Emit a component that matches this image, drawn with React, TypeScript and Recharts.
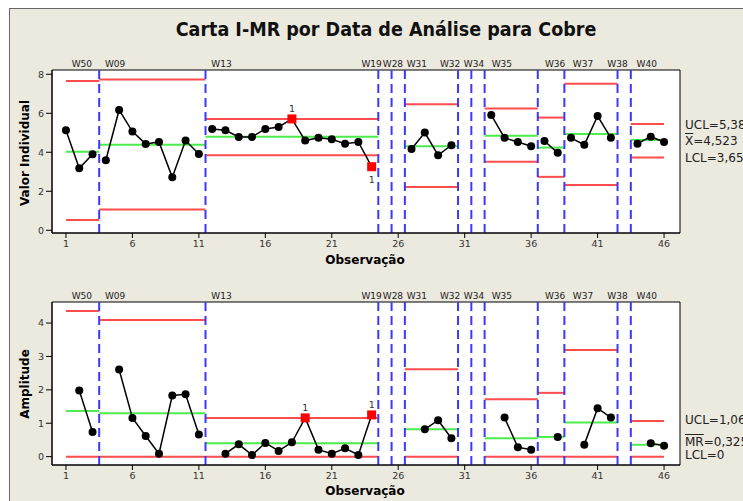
import React from "react";
import {
  ComposedChart,
  Line,
  XAxis,
  YAxis,
  ReferenceLine,
  ReferenceArea,
  CartesianGrid,
} from "recharts";

// observations 1..46, null = not plotted
const individualValues = [
  5.13, 3.18, 3.9, 3.59, 6.17, 5.06, 4.43, 4.53, 2.72, 4.6, 3.91, 5.2, 5.13, 4.79, 4.79, 5.2,
  5.3, 5.71, 4.6, 4.74, 4.67, 4.44, 4.53, 3.26, null, null, 4.17, 5.01, 3.85, 4.36, null, null,
  5.91, 4.74, 4.53, 4.31, 4.58, 3.97, 4.74, 4.38, 5.86, 4.74, null, 4.44, 4.8, 4.53,
];
const movingRanges = [
  null, 1.98, 0.74, null, 2.61, 1.16, 0.62, 0.09, 1.83, 1.87, 0.66, null, 0.09, 0.37, 0.05, 0.41,
  0.17, 0.43, 1.16, 0.21, 0.09, 0.25, 0.05, 1.25, null, null, null, 0.82, 1.09, 0.55, null, null,
  null, 1.17, 0.28, 0.21, null, 0.59, null, 0.36, 1.45, 1.17, null, null, 0.4, 0.33,
];

const stageNames = ["W50", "W09", "W13", "W19", "W28", "W31", "W32", "W34", "W35", "W36", "W37", "W38", "W40"];
const stageFirst = [1, 4, 12, 25, 26, 27, 31, 32, 33, 37, 39, 43, 44];
const stageLast = [3, 11, 24, 25, 26, 30, 31, 32, 36, 38, 42, 43, 46];
const stageLabelX = [2.2, 4.7, 12.7, 24.0, 25.6, 27.4, 29.9, 31.7, 33.8, 37.8, 39.9, 42.5, 44.7];

const iUcl = [7.66, 7.73, 5.71, null, null, 6.46, null, null, 6.24, 5.78, 7.52, null, 5.45];
const iCl = [4.03, 4.38, 4.8, null, null, 4.31, null, null, 4.85, 4.24, 4.94, null, 4.63];
const iLcl = [0.53, 1.06, 3.85, null, null, 2.22, null, null, 3.52, 2.74, 2.32, null, 3.73];
const mrUcl = [4.36, 4.09, 1.16, null, null, 2.62, null, null, 1.72, 1.91, 3.19, null, 1.07];
const mrCl = [1.37, 1.3, 0.4, null, null, 0.82, null, null, 0.55, 0.59, 1.02, null, 0.36];
const mrLcl = [0, 0, 0, null, null, 0, null, null, 0, 0, 0, null, 0];

const iFlagged = [18, 24];
const iFlaggedBelow = [24];
const mrFlagged = [19, 24];

const xTicks = [1, 6, 11, 16, 21, 26, 31, 36, 41, 46];
const iTicks = [0, 2, 4, 6, 8];
const mrTicks = [0, 1, 2, 3, 4];

const RED = "#ff4d4d";
const GREEN = "#4cec4c";
const BLUE = "#3a3aff";
const FONT = "'DejaVu Sans', Verdana, sans-serif";
const X_DOMAIN: [number, number] = [-0.05, 47.2];
const boundaries = stageFirst.slice(1).map((f) => f - 0.5);

function segment(i: number, v: number) {
  const start = i === 0 ? stageFirst[i] : stageFirst[i] - 0.5;
  const end = i === stageNames.length - 1 ? stageLast[i] : stageLast[i] + 0.5;
  return [
    { x: start, y: v },
    { x: end, y: v },
  ];
}

function stagePoints(values: (number | null)[], i: number) {
  const pts: { x: number; y: number }[] = [];
  for (let o = stageFirst[i]; o <= stageLast[i]; o++) {
    const v = values[o - 1];
    if (v != null) pts.push({ x: o, y: v });
  }
  return pts;
}

function makeDot(flags: number[], below: number[]) {
  return (props: any) => {
    const { cx, cy, payload } = props;
    const k = `d-${payload.x}`;
    if (cx == null || cy == null) return <g key={k} />;
    if (flags.includes(payload.x)) {
      const under = below.includes(payload.x);
      return (
        <g key={k}>
          <rect x={cx - 4.5} y={cy - 4.5} width={9} height={9} fill="#ff0000" />
          <text x={cx} y={under ? cy + 16 : cy - 7} textAnchor="middle" fontSize={9.5} fill="#333" fontFamily={FONT}>
            1
          </text>
        </g>
      );
    }
    return <circle key={k} cx={cx} cy={cy} r={4} fill="#000" />;
  };
}

interface ChartProps {
  height: number;
  margin: { top: number; right: number; bottom: number; left: number };
  values: (number | null)[];
  ucl: (number | null)[];
  cl: (number | null)[];
  lcl: (number | null)[];
  yDomain: [number, number];
  yTicks: number[];
  flags: number[];
  flagsBelow: number[];
}

function ControlChart({ height, margin, values, ucl, cl, lcl, yDomain, yTicks, flags, flagsBelow }: ChartProps) {
  const tick = { fill: "#333", fontSize: 9.5, fontFamily: FONT };
  const dot = makeDot(flags, flagsBelow);
  const limitLine = (arr: (number | null)[], color: string, prefix: string) =>
    arr.map((v, i) =>
      v == null ? null : (
        <Line
          key={prefix + i}
          data={segment(i, v)}
          dataKey="y"
          stroke={color}
          strokeWidth={2}
          dot={false}
          isAnimationActive={false}
        />
      )
    );
  return (
    <ComposedChart width={743} height={height} margin={margin}>
      <CartesianGrid horizontal={false} vertical={false} fill="#fff" />
      <XAxis
        type="number"
        dataKey="x"
        domain={X_DOMAIN}
        ticks={xTicks}
        height={30}
        tickSize={5}
        tick={tick}
        stroke="#000"
        allowDataOverflow
      />
      <YAxis
        type="number"
        domain={yDomain}
        ticks={yTicks}
        width={40}
        tickSize={6}
        tick={tick}
        stroke="#000"
        allowDataOverflow
      />
      {limitLine(lcl, RED, "l")}
      {limitLine(ucl, RED, "u")}
      {limitLine(cl, GREEN, "c")}
      {boundaries.map((b) => (
        <ReferenceLine key={"b" + b} x={b} stroke={BLUE} strokeWidth={2} strokeDasharray="9 5" />
      ))}
      {stageNames.map((name, i) => (
        <ReferenceLine
          key={"s" + name}
          x={stageLabelX[i]}
          stroke="none"
          label={{ value: name, position: "top", offset: 3, fill: "#222", fontSize: 9, fontFamily: FONT }}
        />
      ))}
      {stageNames.map((name, i) => {
        const pts = stagePoints(values, i);
        if (pts.length === 0) return null;
        return (
          <Line
            key={"p" + name}
            data={pts}
            dataKey="y"
            stroke="#000"
            strokeWidth={1.5}
            dot={dot}
            isAnimationActive={false}
          />
        );
      })}
      <ReferenceArea x1={X_DOMAIN[0]} x2={X_DOMAIN[1]} y1={yDomain[0]} y2={yDomain[1]} fill="none" stroke="#000" strokeWidth={1} />
    </ComposedChart>
  );
}

const sideText: React.CSSProperties = {
  position: "absolute",
  left: 685,
  fontSize: 12,
  fontFamily: FONT,
  color: "#222",
  whiteSpace: "nowrap",
  lineHeight: "13px",
};

const axisTitle: React.CSSProperties = {
  position: "absolute",
  fontFamily: FONT,
  fontWeight: "bold",
  fontSize: 12,
  color: "#000",
  whiteSpace: "nowrap",
  textAlign: "center",
  width: 200,
  lineHeight: "14px",
};

export default function App() {
  return (
    <div style={{ position: "absolute", left: 0, top: 0, width: 743, height: 501, background: "#fff", overflow: "hidden" }}>
      <div
        style={{
          position: "absolute",
          left: 9,
          top: 8,
          width: 740,
          height: 500,
          background: "#ece9df",
          borderLeft: "1px solid #666",
          borderTop: "1px solid #666",
        }}
      />
      <div
        style={{
          position: "absolute",
          left: 86,
          width: 600,
          top: 18,
          textAlign: "center",
          fontFamily: "'DejaVu Sans Condensed', 'DejaVu Sans', sans-serif",
          fontWeight: "bold",
          fontSize: 19.5,
          color: "#111",
        }}
      >
        Carta I-MR por Data de Análise para Cobre
      </div>
      <div style={{ position: "absolute", left: 0, top: 0 }}>
        <ControlChart
          height={275}
          margin={{ top: 70, right: 63, bottom: 12, left: 12 }}
          values={individualValues}
          ucl={iUcl}
          cl={iCl}
          lcl={iLcl}
          yDomain={[-0.14, 8.22]}
          yTicks={iTicks}
          flags={iFlagged}
          flagsBelow={iFlaggedBelow}
        />
      </div>
      <div style={{ position: "absolute", left: 0, top: 270 }}>
        <ControlChart
          height={231}
          margin={{ top: 32, right: 63, bottom: 6, left: 12 }}
          values={movingRanges}
          ucl={mrUcl}
          cl={mrCl}
          lcl={mrLcl}
          yDomain={[-0.25, 4.63]}
          yTicks={mrTicks}
          flags={mrFlagged}
          flagsBelow={[]}
        />
      </div>
      <div style={{ ...axisTitle, left: -75, top: 146, transform: "rotate(-90deg)" }}>Valor Individual</div>
      <div style={{ ...axisTitle, left: -75, top: 377, transform: "rotate(-90deg)" }}>Amplitude</div>
      <div style={{ ...axisTitle, left: 265, top: 253 }}>Observação</div>
      <div style={{ ...axisTitle, left: 265, top: 484 }}>Observação</div>
      <div style={{ ...sideText, top: 119 }}>UCL=5,384</div>
      <div style={{ ...sideText, top: 135 }}>
        <span style={{ textDecoration: "overline" }}>X</span>=4,523
      </div>
      <div style={{ ...sideText, top: 152 }}>LCL=3,659</div>
      <div style={{ ...sideText, top: 414 }}>UCL=1,062</div>
      <div style={{ ...sideText, top: 436 }}>
        <span style={{ textDecoration: "overline" }}>MR</span>=0,325
      </div>
      <div style={{ ...sideText, top: 449 }}>LCL=0</div>
    </div>
  );
}
